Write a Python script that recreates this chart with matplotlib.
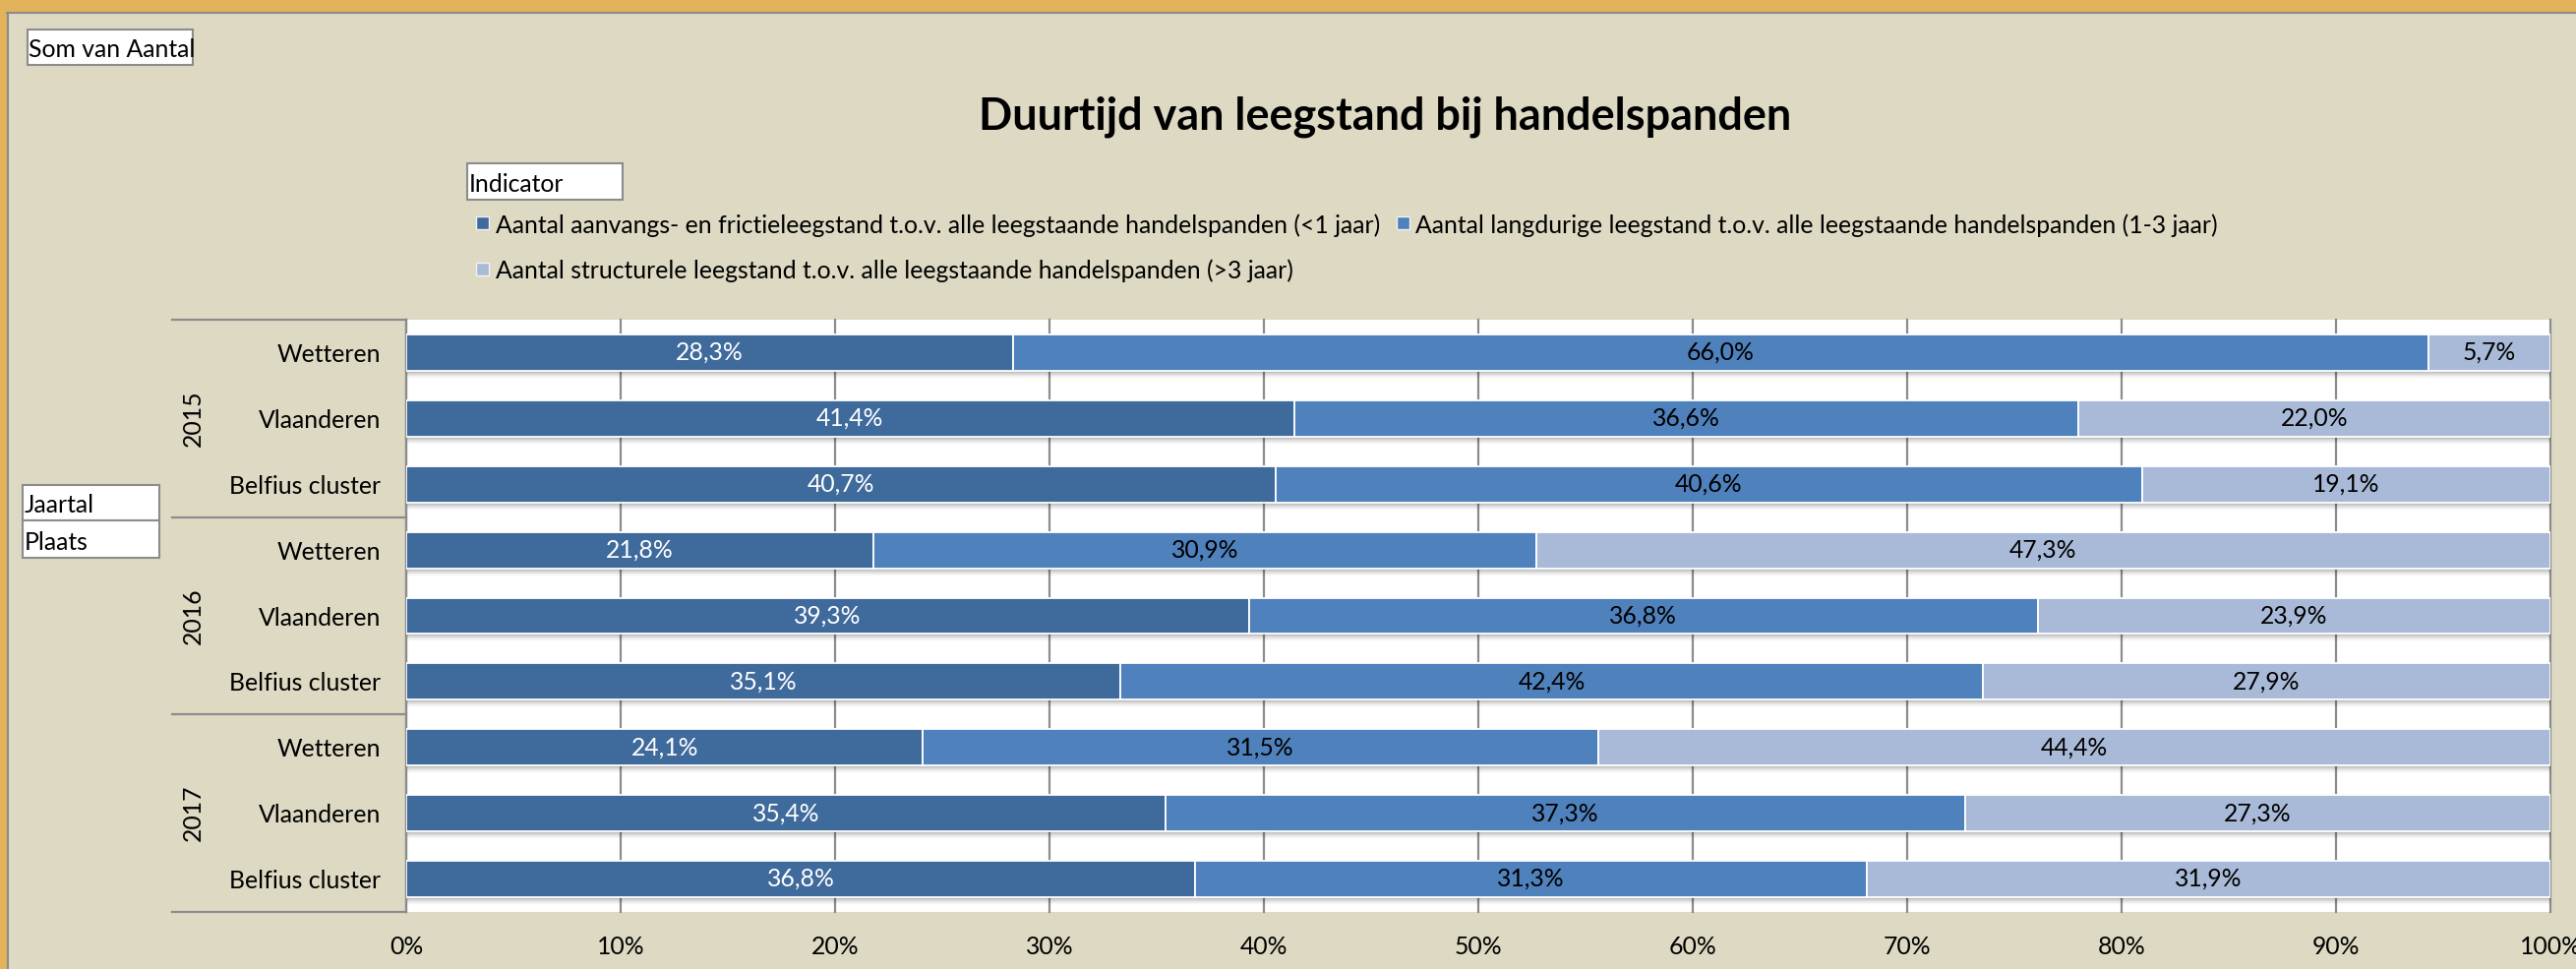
import matplotlib
matplotlib.use('Agg')
import matplotlib.pyplot as plt
import matplotlib.transforms as mtransforms
from matplotlib.patches import Rectangle
import numpy as np

# --- data -------------------------------------------------------------
years = ['2015', '2016', '2017']
places = ['Wetteren', 'Vlaanderen', 'Belfius cluster']
series = [
    'Aantal aanvangs- en frictieleegstand t.o.v. alle leegstaande handelspanden (<1 jaar)',
    'Aantal langdurige leegstand t.o.v. alle leegstaande handelspanden (1-3 jaar)',
    'Aantal structurele leegstand t.o.v. alle leegstaande handelspanden (>3 jaar)',
]
# per row: 2015 W, V, B, 2016 W, V, B, 2017 W, V, B
short_term = [28.3, 41.4, 40.7, 21.8, 39.3, 35.1, 24.1, 35.4, 36.8]
long_term = [66.0, 36.6, 40.6, 30.9, 36.8, 42.4, 31.5, 37.3, 31.3]
structural = [5.7, 22.0, 19.1, 47.3, 23.9, 27.9, 44.4, 27.3, 31.9]
x_ticks = [0, 10, 20, 30, 40, 50, 60, 70, 80, 90, 100]

colors = ['#3F6A9C', '#4F81BD', '#A9BAD8']
label_colors = ['white', 'black', 'black']
BG = '#DDD9C3'
GREY = '#8C8C8C'
FONT = 'Lato'

W, H, DPI = 2619, 985, 100


def fx(x):
    return x / W


def fy(y):
    return 1 - y / H


fig = plt.figure(figsize=(W / DPI, H / DPI), dpi=DPI)
fig.patch.set_facecolor(BG)
renderer = fig.canvas.get_renderer()


def fit_size(s, width_px, weight='normal'):
    t = fig.text(0, 0, s, fontsize=20, family=FONT, weight=weight)
    w = t.get_window_extent(renderer).width
    t.remove()
    return 20 * width_px / w


lab = fit_size(series[0], 902)
title_size = fit_size('Duurtijd van leegstand bij handelspanden', 828, 'bold')

# --- frame ------------------------------------------------------------
fig.patches.append(Rectangle((0, fy(12)), 1, 12 / H, transform=fig.transFigure,
                             color='#E2B35A', zorder=0))
fig.patches.append(Rectangle((0, 0), fx(7.5), 1, transform=fig.transFigure,
                             color='#E2B35A', zorder=0))
fig.lines.append(plt.Line2D([fx(7.5), 1], [fy(13), fy(13)], transform=fig.transFigure,
                            color=GREY, lw=1.5))
fig.lines.append(plt.Line2D([fx(8.3), fx(8.3)], [0, fy(13)], transform=fig.transFigure,
                            color=GREY, lw=1.5))


def box(x0, y0, x1, y1, text, size):
    fig.patches.append(Rectangle((fx(x0), fy(y1)), fx(x1 - x0), (y1 - y0) / H,
                                 transform=fig.transFigure, facecolor='white',
                                 edgecolor=GREY, lw=1.5))
    fig.text(fx(x0 + 1.5), fy(y1 - 8), text, fontsize=size, family=FONT,
             va='baseline', ha='left')


box(28, 30, 196, 66, 'Som van Aantal', lab)
box(475, 166, 633, 203, 'Indicator', lab)
box(23, 493, 162, 529, 'Jaartal', lab)
box(23, 529, 162, 567, 'Plaats', lab)

fig.text(fx(1408), fy(132), 'Duurtijd van leegstand bij handelspanden',
         fontsize=title_size, weight='bold', family=FONT, ha='center', va='baseline')

# --- legend -----------------------------------------------------------
legend_pos = [(484, 220, 504, 237), (1420, 220, 1439, 237), (484, 267, 504, 283)]
for name, c, (mx, my, tx, ty) in zip(series, colors, legend_pos):
    fig.patches.append(Rectangle((fx(mx), fy(my + 13)), fx(13), 13 / H,
                                 transform=fig.transFigure, facecolor=c,
                                 edgecolor='#F2F2F2', lw=1))
    fig.text(fx(tx), fy(ty), name, fontsize=lab, family=FONT, va='baseline')

# --- bars -------------------------------------------------------------
ax = fig.add_axes([fx(413), fy(927), fx(2180), 602 / H])
ax.set_facecolor('white')
rows = np.arange(len(short_term))
values = [np.array(short_term), np.array(long_term), np.array(structural)]
totals = sum(values)
bar_h = 0.553
row_px = 602 / 9

# soft shadow under each bar
for k in range(8):
    ax.barh(rows + bar_h / 2 + (k + 0.5) / row_px, 1, height=1 / row_px,
            color='black', alpha=0.30 * (1 - k / 8) ** 1.6, lw=0, zorder=2)

left = np.zeros(len(rows))
for vals, c, tc in zip(values, colors, label_colors):
    share = vals / totals
    bars = ax.barh(rows, share, left=left, height=bar_h, color=c,
                   edgecolor='white', linewidth=1.3, zorder=3)
    ax.bar_label(bars, labels=[f'{v:.1f}%'.replace('.', ',') for v in vals],
                 label_type='center', color=tc, fontsize=lab, family=FONT)
    left += share

ticks = np.array(x_ticks) / 100
for t in ticks:
    ax.axvline(t, color=GREY, lw=1.6, zorder=1, clip_on=False)

ax.set_xlim(0, 1)
ax.set_ylim(len(rows) - 0.5, -0.5)
ax.set_xticks(ticks)
ax.set_xticklabels([f'{v}%' for v in x_ticks], family=FONT, fontsize=lab)
ax.set_yticks(rows)
ax.set_yticklabels(places * len(years), family=FONT, fontsize=lab)
ax.tick_params(axis='x', length=0, pad=17)
ax.tick_params(axis='y', length=0, pad=26 * 72 / DPI)
for side in ['top', 'right', 'bottom']:
    ax.spines[side].set_visible(False)
ax.spines['left'].set_color(GREY)
ax.spines['left'].set_linewidth(1.6)

# year groups on the category axis
trans = mtransforms.blended_transform_factory(ax.transAxes, ax.transData)
x_year = -(413 - 196) / 2180
x_line = -(413 - 175) / 2180
for i, yr in enumerate(years):
    ax.text(x_year, i * 3 + 1, yr, transform=trans, rotation=90, ha='center',
            va='center', fontsize=lab, family=FONT)
for b in np.arange(-0.5, len(rows), 3):
    ax.plot([x_line, 0], [b, b], transform=trans, color=GREY, lw=1.6, clip_on=False)

fig.savefig('out.png', dpi=DPI, facecolor=fig.get_facecolor())
